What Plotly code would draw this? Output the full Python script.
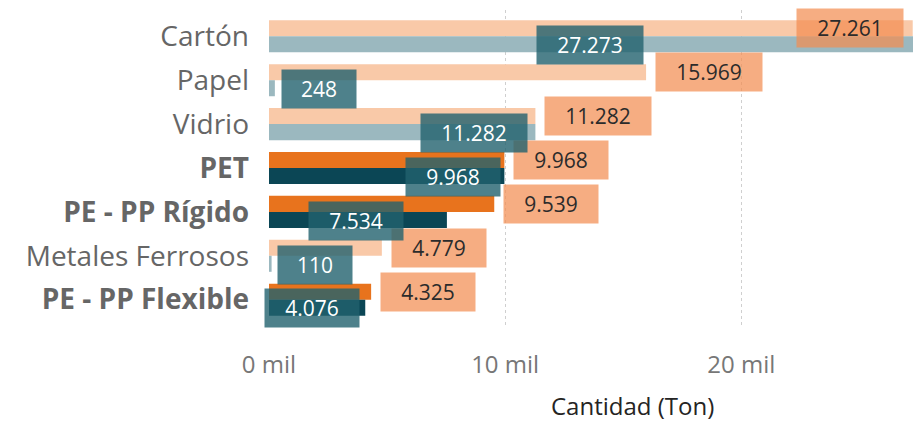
import plotly.graph_objects as go

# Data
categorias = ["Cartón", "Papel", "Vidrio", "PET", "PE - PP Rígido",
              "Metales Ferrosos", "PE - PP Flexible"]
destacadas = ["PET", "PE - PP Rígido", "PE - PP Flexible"]
serie_naranja = [27261, 15969, 11282, 9968, 9539, 4779, 4325]
serie_teal = [27273, 248, 11282, 9968, 7534, 110, 4076]
etiquetas_naranja = ["27.261", "15.969", "11.282", "9.968", "9.539", "4.779", "4.325"]
etiquetas_teal = ["27.273", "248", "11.282", "9.968", "7.534", "110", "4.076"]
ticks_x = [0, 10000, 20000]
ticks_x_texto = ["0 mil", "10 mil", "20 mil"]

# where the teal labels sit (centre, in Ton) -- Power BI moved them around
pos_label_teal = [13600, 2100, 8700, 7800, 3700, 1950, 1800]

FONT = "Open Sans"
idx = list(range(len(categorias)))

col_nar = ["#E8731D" if c in destacadas else "#F9C9A8" for c in categorias]
col_teal = ["#0B4655" if c in destacadas else "#9BB8BF" for c in categorias]


def ancho_caja(txt):
    # box width depends on number of characters
    return 102 if len(txt) > 5 else (90 if len(txt) > 3 else 70)


fig = go.Figure()
fig.add_trace(go.Bar(y=idx, x=serie_naranja, orientation="h",
                     marker=dict(color=col_nar, line=dict(width=0)),
                     hoverinfo="skip"))
fig.add_trace(go.Bar(y=idx, x=serie_teal, orientation="h",
                     marker=dict(color=col_teal, line=dict(width=0)),
                     hoverinfo="skip"))

# labels for orange series: outside end, Cartón inside end
for i, v in enumerate(serie_naranja):
    inside = v > 25000
    fig.add_annotation(x=v, y=i - 0.18, text=etiquetas_naranja[i],
                       xanchor="right" if inside else "left",
                       xshift=-9 if inside else 9,
                       showarrow=False,
                       width=ancho_caja(etiquetas_naranja[i]), height=34,
                       bgcolor="rgba(242,142,82,0.72)", borderpad=2,
                       font=dict(family=FONT, size=21, color="#2b2b2b"))

for i, v in enumerate(serie_teal):
    fig.add_annotation(x=pos_label_teal[i], y=i + 0.2, text=etiquetas_teal[i],
                       xanchor="center", showarrow=False,
                       width=ancho_caja(etiquetas_teal[i]), height=34,
                       bgcolor="rgba(34,98,110,0.8)", borderpad=2,
                       font=dict(family=FONT, size=21, color="white"))

fig.add_annotation(text="Cantidad (Ton)", xref="paper", yref="paper",
                   x=0.564, y=-0.25, yanchor="middle", showarrow=False,
                   font=dict(family=FONT, size=24, color="#252423"))

ticktext = [f"<b>{c}</b>" if c in destacadas else c for c in categorias]

fig.update_layout(
    width=920, height=421,
    margin=dict(l=269, r=7, t=10, b=95),
    barmode="group", bargap=0.27, bargroupgap=0,
    showlegend=False,
    plot_bgcolor="white", paper_bgcolor="white",
    font=dict(family=FONT),
)
fig.update_yaxes(range=[6.6, -0.6], tickvals=idx, ticktext=ticktext,
                 tickfont=dict(size=28, color="#666666"),
                 showgrid=False, zeroline=False, ticklabelstandoff=19)
fig.update_xaxes(range=[0, 27273], tickvals=ticks_x, ticktext=ticks_x_texto,
                 tickfont=dict(size=24, color="#777777"),
                 showgrid=True, gridcolor="#cfcfcf", griddash="dot", gridwidth=1,
                 zeroline=False, ticklabelstandoff=22)

fig.write_html("out.html", config={"displayModeBar": False},
               post_script="document.body.style.margin='0';")
